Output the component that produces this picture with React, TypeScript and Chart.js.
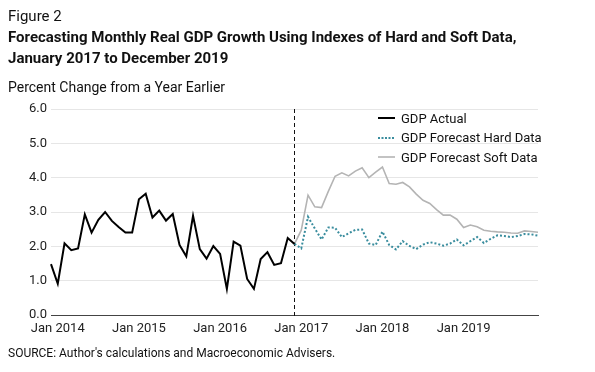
import React, { useEffect, useRef } from 'react';
import { Chart, registerables } from 'chart.js';

Chart.register(...registerables);

const FONT = "'Roboto', 'Liberation Sans', sans-serif";

const monthNames = ['Jan', 'Feb', 'Mar', 'Apr', 'May', 'Jun', 'Jul', 'Aug', 'Sep', 'Oct', 'Nov', 'Dec'];
const years = [2014, 2015, 2016, 2017, 2018, 2019];
const months: string[] = ['Dec 2013'];
years.forEach((y) => monthNames.forEach((m) => months.push(`${m} ${y}`)));

const xTickLabels = ['Jan 2014', 'Jan 2015', 'Jan 2016', 'Jan 2017', 'Jan 2018', 'Jan 2019'];
const yTickValues = [0, 1, 2, 3, 4, 5, 6];
const dividerMonth = 'Dec 2016';

// Dec 2013 .. Dec 2016
const gdpActual = [
  1.48, 0.91, 2.09, 1.89, 1.94, 2.93, 2.40, 2.77, 3.00, 2.74, 2.56, 2.40, 2.40,
  3.37, 3.53, 2.84, 3.04, 2.75, 2.94, 2.04, 1.71, 2.89, 1.92, 1.64, 2.01,
  1.78, 0.76, 2.14, 2.02, 1.05, 0.76, 1.63, 1.83, 1.46, 1.51, 2.24, 2.07,
];

// Dec 2016 .. Dec 2019
const gdpHard = [
  2.07, 1.94, 2.86, 2.52, 2.20, 2.55, 2.54, 2.27, 2.38, 2.48, 2.49, 2.08,
  2.04, 2.43, 2.04, 1.91, 2.15, 2.01, 1.92, 2.05, 2.12, 2.08, 2.02, 2.08,
  2.20, 2.03, 2.15, 2.27, 2.10, 2.22, 2.32, 2.30, 2.27, 2.30, 2.36, 2.35, 2.31,
];

const gdpSoft = [
  2.07, 2.47, 3.49, 3.15, 3.13, 3.60, 4.04, 4.14, 4.05, 4.19, 4.29, 4.00,
  4.16, 4.31, 3.83, 3.81, 3.86, 3.73, 3.52, 3.34, 3.25, 3.07, 2.91, 2.91,
  2.79, 2.55, 2.62, 2.57, 2.47, 2.44, 2.42, 2.41, 2.39, 2.38, 2.45, 2.43, 2.41,
];

const seriesNames = ['GDP Actual', 'GDP Forecast Hard Data', 'GDP Forecast Soft Data'];
const colActual = '#000000';
const colHard = '#3a8d9e';
const colSoft = '#b4b4b4';

const startIdx = months.indexOf(dividerMonth);
const pad = (n: number) => Array(n).fill(null);
const actualData = [...gdpActual, ...pad(months.length - gdpActual.length)];
const hardData = [...pad(startIdx), ...gdpHard];
const softData = [...pad(startIdx), ...gdpSoft];

const dividerPlugin = {
  id: 'divider',
  beforeDatasetsDraw(chart: any) {
    const { ctx, chartArea, scales } = chart;
    const x = Math.round(scales.x.getPixelForValue(months.indexOf(dividerMonth))) - 0.5;
    ctx.save();
    ctx.strokeStyle = '#111';
    ctx.lineWidth = 1;
    ctx.setLineDash([4, 3]);
    ctx.beginPath();
    ctx.moveTo(x, chartArea.top);
    ctx.lineTo(x, chartArea.bottom + 3);
    ctx.stroke();
    ctx.restore();
  },
};

export default function App() {
  const ref = useRef<HTMLCanvasElement>(null);
  useEffect(() => {
    document.body.style.margin = '0';
    Chart.defaults.font.family = FONT;
    const chart = new Chart(ref.current!, {
      type: 'line',
      data: {
        labels: months,
        datasets: [
          { label: seriesNames[0], data: actualData, borderColor: colActual, borderWidth: 2, pointRadius: 0, tension: 0, spanGaps: false },
          { label: seriesNames[1], data: hardData, borderColor: colHard, borderWidth: 2, borderDash: [2, 2], pointRadius: 0, tension: 0 },
          { label: seriesNames[2], data: softData, borderColor: colSoft, borderWidth: 1.6, pointRadius: 0, tension: 0 },
        ],
      },
      options: {
        responsive: false,
        animation: false,
        devicePixelRatio: 1,
        layout: { padding: { left: 0, right: 57, top: 109, bottom: 0 } },
        plugins: { legend: { display: false }, tooltip: { enabled: false }, title: { display: false } },
        scales: {
          x: {
            type: 'category',
            grid: { display: false, drawTicks: false },
            border: { display: true, color: '#444', width: 1 },
            ticks: {
              autoSkip: false,
              maxRotation: 0,
              minRotation: 0,
              padding: 6,
              color: '#222',
              font: { size: 13 },
              callback: (_v: any, i: number) => (xTickLabels.includes(months[i]) ? months[i] : ''),
            },
            afterFit: (s: any) => { s.height = 57; },
          },
          y: {
            min: 0,
            max: 6,
            afterBuildTicks: (s: any) => { s.ticks = yTickValues.map((v) => ({ value: v })); },
            ticks: { padding: 4, color: '#222', font: { size: 13 }, callback: (v: any) => Number(v).toFixed(1) },
            grid: { color: '#e6e6e6', drawTicks: false },
            border: { display: false },
            afterFit: (s: any) => { s.width = 51; },
          },
        },
      },
      plugins: [dividerPlugin],
    } as any);
    return () => chart.destroy();
  }, []);

  const legendRow = (top: number, name: string, sample: React.ReactNode) => (
    <div style={{ position: 'absolute', left: 377, top, height: 18, display: 'flex', alignItems: 'center' }}>
      <svg width={20} height={18} style={{ display: 'block' }}>{sample}</svg>
      <span style={{ marginLeft: 4, fontSize: 13, color: '#111', whiteSpace: 'nowrap' }}>{name}</span>
    </div>
  );

  return (
    <div style={{ position: 'relative', width: 595, height: 372, background: '#fff', fontFamily: FONT, color: '#111', overflow: 'hidden' }}>
      <canvas ref={ref} width={595} height={372} style={{ position: 'absolute', left: 0, top: 0 }} />
      <div style={{ position: 'absolute', left: 8, top: 7, fontSize: 15, whiteSpace: 'nowrap' }}>Figure 2</div>
      <div style={{ position: 'absolute', left: 8, top: 27, fontSize: 15, fontWeight: 700, lineHeight: '21px', whiteSpace: 'nowrap' }}>
        Forecasting Monthly Real GDP Growth Using Indexes of Hard and Soft Data,<br />January 2017 to December 2019
      </div>
      <div style={{ position: 'absolute', left: 8, top: 79, fontSize: 14, whiteSpace: 'nowrap' }}>Percent Change from a Year Earlier</div>
      {legendRow(109, seriesNames[0], <line x1={1} y1={9} x2={18} y2={9} stroke={colActual} strokeWidth={2} />)}
      {legendRow(128.5, seriesNames[1], <line x1={1} y1={9} x2={18} y2={9} stroke={colHard} strokeWidth={2} strokeDasharray="2 1.5" />)}
      {legendRow(148, seriesNames[2], <line x1={1} y1={9} x2={18} y2={9} stroke={colSoft} strokeWidth={1.6} />)}
      <div style={{ position: 'absolute', left: 8, top: 346, fontSize: 12, whiteSpace: 'nowrap' }}>SOURCE: Author's calculations and Macroeconomic Advisers.</div>
    </div>
  );
}
